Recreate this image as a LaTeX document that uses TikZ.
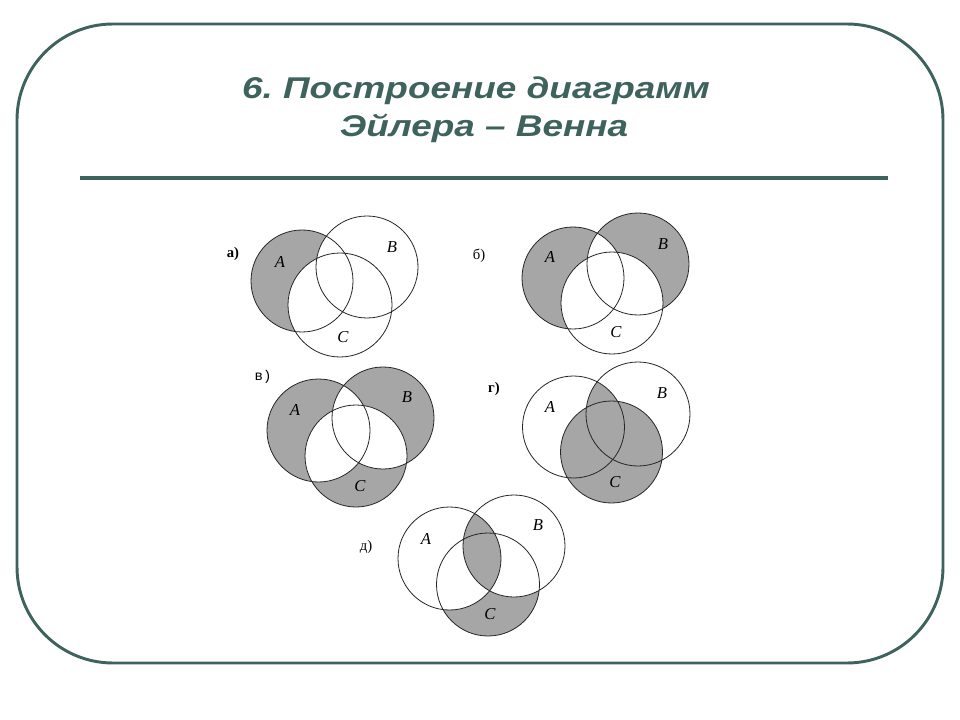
\documentclass[tikz,border=0pt]{standalone}
\usepackage{fontspec}
\usepackage{graphicx}
\setmainfont{Liberation Serif}
\newfontfamily\titlefont{Liberation Sans}
\newfontfamily\tagmono{Liberation Mono}
\definecolor{framec}{RGB}{62,98,92}
\definecolor{shadec}{RGB}{166,166,166}
\frenchspacing
\begin{document}
\begin{tikzpicture}[x=0.75pt,y=-0.75pt,
  ring/.style={draw=black!85, line width=0.6pt},
  lbl/.style={font=\fontsize{12.5}{13}\selectfont\itshape, inner sep=0pt},
  tagl/.style={font=\fontsize{11}{12}\selectfont, inner sep=0pt},
  titl/.style={font=\titlefont\fontsize{22.5}{24}\selectfont\bfseries\itshape, text=framec, inner sep=0pt, anchor=base}]
\fill[white] (0,0) rectangle (960,720);
\useasboundingbox (0,0) rectangle (960,720);
\draw[framec, line width=2.2pt, rounded corners=72pt] (17,24) rectangle (943,663);
\node[titl] (t1) at (476,99) {\scalebox{1.23}[1]{6. Построение диаграмм}};
\node[titl] (t2) at (484,137) {\scalebox{1.23}[1]{Эйлера – Венна}};
\draw[framec, line width=3pt] (80,178) -- (888,178);

% a) A \ (B u C)
\fill[shadec] (302,281) circle[radius=51];
\fill[white] (367,267) circle[radius=51];
\fill[white] (340,305) circle[radius=52];
\draw[ring] (302,281) circle[radius=51] (367,267) circle[radius=51] (340,305) circle[radius=52];
\node[tagl, font=\fontsize{11}{12}\selectfont\bfseries] (ta) at (233,254) {а)};
\node[lbl] (aA) at (280,262) {A};
\node[lbl] (aB) at (392,247) {B};
\node[lbl] (aC) at (343,337) {C};

% b) (A xor B) \ C
\fill[shadec] (573,278) circle[radius=51] (638,264) circle[radius=51];
\begin{scope}
\clip (573,278) circle[radius=51];
\fill[white] (638,264) circle[radius=51];
\end{scope}
\fill[white] (612,303) circle[radius=51];
\draw[ring] (573,278) circle[radius=51] (638,264) circle[radius=51] (612,303) circle[radius=51];
\node[tagl] (tb) at (479,256) {б)};
\node[lbl] (bA) at (550,257) {A};
\node[lbl] (bB) at (663,244) {B};
\node[lbl] (bC) at (616,332) {C};

% v) only A, only B, only C
\fill[shadec] (318.5,430.5) circle[radius=51.5] (383,418) circle[radius=51] (356,456) circle[radius=51];
\begin{scope}
\clip (318.5,430.5) circle[radius=51.5];
\fill[white] (383,418) circle[radius=51] (356,456) circle[radius=51];
\end{scope}
\begin{scope}
\clip (383,418) circle[radius=51];
\fill[white] (356,456) circle[radius=51];
\end{scope}
\draw[ring] (318.5,430.5) circle[radius=51.5] (383,418) circle[radius=51] (356,456) circle[radius=51];
\node[tagl, font=\tagmono\fontsize{10.5}{12}\selectfont] (tv) at (263,377) {в)};
\node[lbl] (vA) at (295,410) {A};
\node[lbl] (vB) at (407,397) {B};
\node[lbl] (vC) at (360,486) {C};

% g) (A n B) u C
\fill[shadec] (611.5,452) circle[radius=51];
\begin{scope}
\clip (573.5,427) circle[radius=51];
\fill[shadec] (638,414) circle[radius=52];
\end{scope}
\draw[ring] (573.5,427) circle[radius=51] (638,414) circle[radius=52] (611.5,452) circle[radius=51];
\node[tagl, font=\fontsize{11}{12}\selectfont\bfseries] (tg) at (494,389) {г)};
\node[lbl] (gA) at (550,407) {A};
\node[lbl] (gB) at (662,393) {B};
\node[lbl] (gC) at (615,482) {C};

% d) (A n B) u (C \ (A u B))
\fill[shadec] (488,584.5) circle[radius=51.5];
\fill[white] (449.5,558.5) circle[radius=51.5] (514,546) circle[radius=51];
\begin{scope}
\clip (449.5,558.5) circle[radius=51.5];
\fill[shadec] (514,546) circle[radius=51];
\end{scope}
\draw[ring] (449.5,558.5) circle[radius=51.5] (514,546) circle[radius=51] (488,584.5) circle[radius=51.5];
\node[tagl] (td) at (366,547) {д)};
\node[lbl] (dA) at (426,539) {A};
\node[lbl] (dB) at (538,525) {B};
\node[lbl] (dC) at (490,614) {C};
\end{tikzpicture}
\end{document}
